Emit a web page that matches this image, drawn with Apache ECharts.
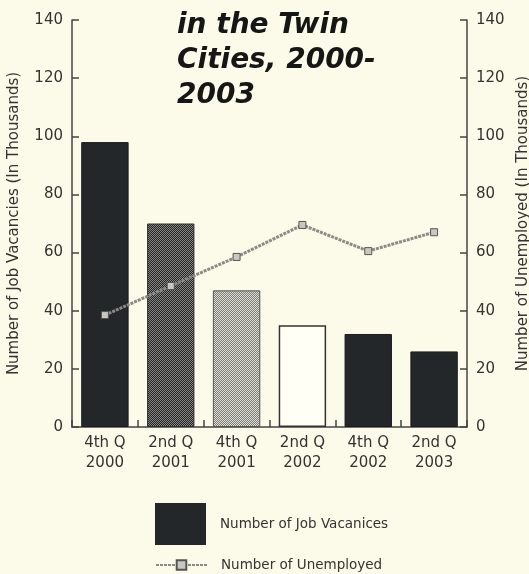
<!DOCTYPE html>
<html><head><meta charset="utf-8">
<script src="https://cdn.jsdelivr.net/npm/echarts@6/dist/echarts.min.js"></script>
<style>html,body{margin:0;padding:0;background:#fcfbe9;}#c{width:529px;height:574px;}</style>
</head><body><div id="c"></div>
<script>
const categories = ['4th Q\n2000','2nd Q\n2001','4th Q\n2001','2nd Q\n2002','4th Q\n2002','2nd Q\n2003'];
const jobVacancies = [98, 70, 47, 35, 32, 26];
const unemployed = [38.5, 48.5, 58.5, 69.5, 60.5, 67];
const yTicks = [0, 20, 40, 60, 80, 100, 120, 140];
const titleLines = ['in the Twin', 'Cities, 2000-', '2003'];

function pat(c1, c2) {
  const cv = document.createElement('canvas');
  cv.width = 2; cv.height = 2;
  const g = cv.getContext('2d');
  g.fillStyle = c1; g.fillRect(0, 0, 2, 2);
  g.fillStyle = c2; g.fillRect(0, 0, 1, 1); g.fillRect(1, 1, 1, 1);
  return cv;
}
const dark = '#23272a';
const barStyles = [
  { color: dark, borderColor: '#1a1d1f', borderWidth: 1 },
  { color: { image: pat('#262626', '#858581'), repeat: 'repeat' }, borderColor: '#333', borderWidth: 1 },
  { color: { image: pat('#80807a', '#dcdcd2'), repeat: 'repeat' }, borderColor: '#555', borderWidth: 1 },
  { color: '#fffff6', borderColor: '#333', borderWidth: 1.5 },
  { color: dark, borderColor: '#1a1d1f', borderWidth: 1 },
  { color: dark, borderColor: '#1a1d1f', borderWidth: 1 }
];

const chart = echarts.init(document.getElementById('c'), null, { renderer: 'canvas' });
const txt = '#333';
const font = 'DejaVu Sans';
const axisCommon = {
  type: 'value', min: 0, max: 140, interval: 20,
  splitLine: { show: false },
  axisLine: { show: true, lineStyle: { color: '#444', width: 1.5 } },
  axisTick: { show: true, inside: true, length: 7, lineStyle: { color: '#444', width: 1.5 } },
  axisLabel: { color: txt, fontFamily: font, fontSize: 15, margin: 9 },
  nameLocation: 'middle',
  nameTextStyle: { color: txt, fontFamily: font, fontSize: 15 }
};
chart.setOption({
  backgroundColor: '#fcfbe9',
  animation: false,
  title: {
    text: titleLines.join('\n'), left: 172, top: 3,
    textStyle: { fontFamily: font, fontSize: 28, fontWeight: 'bold', fontStyle: 'italic', color: '#161616', lineHeight: 35 }
  },
  grid: { left: 72, right: 62, top: 20, bottom: 147, containLabel: false, outerBoundsMode: 'none' },
  legend: [
    { data: ['Number of Job Vacanices'], left: 150, top: 498, itemWidth: 51, itemHeight: 42, icon: 'rect',
      textStyle: { color: txt, fontFamily: font, fontSize: 13.5, padding: [0, 0, 0, 9] } },
    { data: ['Number of Unemployed'], left: 150, top: 553, itemWidth: 51, itemHeight: 12,
      textStyle: { color: txt, fontFamily: font, fontSize: 13.5, padding: [0, 0, 0, 9] } }
  ],
  xAxis: {
    type: 'category', data: categories,
    axisLine: { lineStyle: { color: '#444', width: 1.5 } },
    axisTick: { show: true, inside: true, length: 7, lineStyle: { color: '#444', width: 1.5 } },
    axisLabel: { color: txt, fontFamily: font, fontSize: 15, lineHeight: 20, margin: 6 }
  },
  yAxis: [
    Object.assign({}, axisCommon, { position: 'left', name: 'Number of Job Vacancies (In Thousands)', nameGap: 50,
      axisLabel: Object.assign({}, axisCommon.axisLabel, { customValues: yTicks }) }),
    Object.assign({}, axisCommon, { position: 'right', name: 'Number of Unemployed (In Thousands)', nameGap: 49,
      nameRotate: 90 })
  ],
  series: [
    {
      name: 'Number of Job Vacanices', type: 'bar', yAxisIndex: 0, barCategoryGap: '28%',
      itemStyle: { color: dark },
      data: jobVacancies.map((v, i) => ({ value: v, itemStyle: barStyles[i] }))
    },
    {
      name: 'Number of Unemployed', type: 'line', yAxisIndex: 1, data: unemployed,
      symbol: 'rect', symbolSize: 7,
      lineStyle: { color: '#8a8a86', width: 3, type: [3, 1] },
      itemStyle: { color: '#c8c8c0', borderColor: '#555', borderWidth: 1 }
    }
  ]
});
</script></body></html>
